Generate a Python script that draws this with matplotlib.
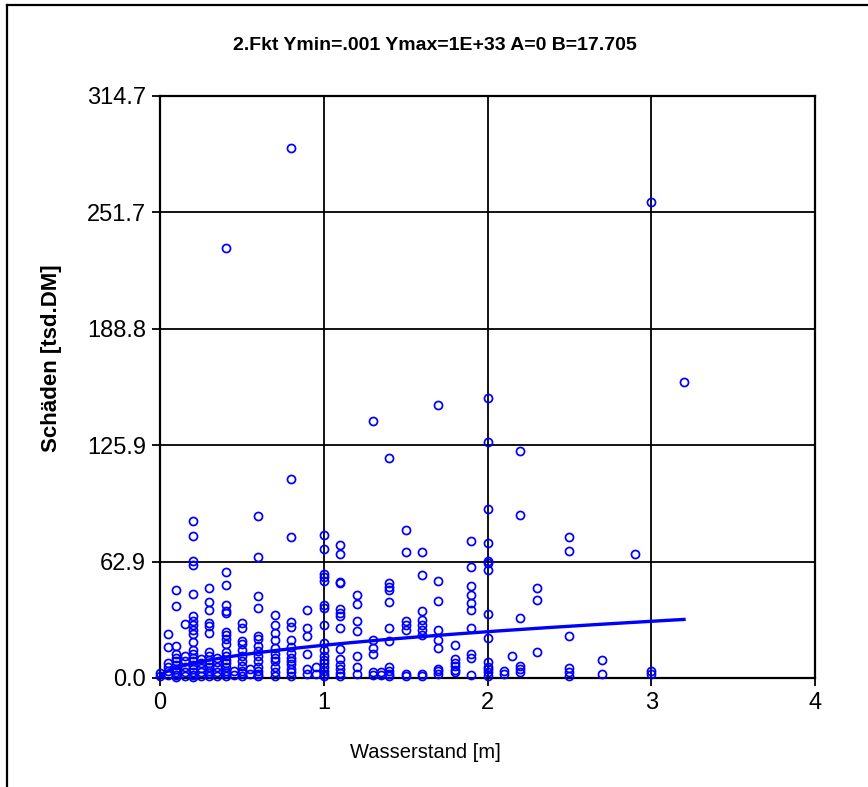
import numpy as np
import matplotlib
matplotlib.use("Agg")
import matplotlib.pyplot as plt
from matplotlib.lines import Line2D

# Water level classes (m) and the damages observed at each level (tsd. DM)
water_levels = [0.0, 0.05, 0.1, 0.15, 0.2, 0.25, 0.3, 0.35, 0.4, 0.45, 0.5, 0.55,
                0.6, 0.7, 0.8, 0.9, 0.95, 1.0, 1.1, 1.2, 1.3, 1.35, 1.4, 1.5, 1.6,
                1.7, 1.8, 1.9, 2.0, 2.1, 2.15, 2.2, 2.3, 2.5, 2.7, 2.9, 3.0, 3.2]
damages = [
    [2.7, 1.0],
    [23.8, 16.6, 8.0, 6.0, 4.0, 1.5],
    [47.5, 39.0, 17.5, 13.0, 11.0, 9.0, 7.0, 5.0, 3.0, 1.5, 0.5],
    [29.2, 12.0, 9.0, 6.0, 3.0, 1.0],
    [85.0, 76.8, 63.0, 61.0, 45.4, 33.6, 30.8, 28.5, 26.1, 23.6, 19.6, 15.0, 13.0,
     11.0, 9.0, 7.0, 5.0, 3.0, 1.5, 0.5],
    [10.5, 8.0, 5.5, 3.0, 1.0],
    [48.5, 40.9, 36.5, 29.7, 28.0, 24.3, 14.0, 12.0, 10.0, 8.0, 6.0, 4.0, 2.5, 1.0],
    [11.0, 8.5, 6.0, 3.5, 1.2],
    [232.5, 57.5, 50.4, 39.7, 36.2, 35.0, 25.0, 23.3, 21.0, 18.2, 14.0, 12.0, 10.0,
     8.0, 6.0, 4.0, 2.5, 1.0],
    [4.0, 1.5],
    [29.5, 26.8, 19.8, 18.4, 15.0, 12.0, 9.0, 6.5, 4.0, 2.5, 1.0],
    [5.0, 2.0],
    [87.6, 65.6, 44.1, 38.0, 22.8, 21.0, 17.2, 14.6, 12.0, 9.0, 6.0, 4.0, 2.0, 1.0],
    [33.8, 28.6, 24.6, 20.8, 16.4, 13.0, 11.0, 9.0, 6.0, 3.0, 1.0],
    [286.5, 107.5, 76.3, 30.2, 27.6, 20.5, 17.0, 13.7, 11.0, 9.0, 7.5, 5.0, 3.0, 1.0],
    [36.6, 27.2, 22.8, 13.0, 4.8, 2.1],
    [5.7, 2.1],
    [77.5, 70.0, 56.3, 54.4, 52.2, 39.5, 38.0, 28.6, 19.0, 15.0, 12.0, 10.0, 8.0,
     6.0, 4.0, 2.0, 1.0],
    [72.0, 67.0, 52.0, 51.4, 37.2, 35.2, 33.4, 27.2, 15.5, 10.1, 7.0, 4.8, 2.5, 1.2],
    [45.0, 40.2, 30.8, 25.4, 11.9, 5.7, 2.1],
    [139.0, 20.8, 16.4, 12.8, 3.0, 1.5],
    [3.0, 1.5],
    [119.0, 51.2, 49.0, 47.8, 41.2, 27.0, 19.9, 5.7, 3.9, 2.1, 1.0],
    [80.0, 68.0, 30.6, 28.8, 26.1, 2.1, 1.0],
    [68.0, 55.5, 36.4, 31.5, 28.8, 26.1, 23.5, 2.2, 1.2],
    [147.5, 52.2, 41.8, 26.1, 20.8, 16.4, 5.0, 3.9, 2.1],
    [18.1, 10.1, 8.0, 6.6, 4.5, 3.0],
    [74.0, 60.0, 49.5, 45.0, 40.8, 36.8, 27.0, 12.8, 11.0, 1.6],
    [151.5, 127.5, 91.5, 72.9, 63.0, 62.0, 58.6, 34.8, 21.7, 8.4, 6.0, 4.8, 3.0, 1.2],
    [3.9, 2.1],
    [11.9],
    [122.5, 88.0, 32.5, 6.6, 5.0, 3.0],
    [48.6, 42.3, 13.8],
    [76.3, 68.9, 22.8, 5.5, 3.5, 1.3],
    [9.8, 2.2],
    [67.0],
    [257.5, 3.9, 2.1],
    [160.0],
]

# Fitted damage function y = A + B * sqrt(x)
fit_a = 0.0
fit_b = 17.705
fit_x_max = 3.2

x_ticks = [0, 1, 2, 3, 4]
y_ticks = [0.0, 62.94, 125.88, 188.82, 251.76, 314.7]
y_tick_labels = ["0.0", "62.9", "125.9", "188.8", "251.7", "314.7"]

title = "2.Fkt Ymin=.001 Ymax=1E+33 A=0 B=17.705"
font = "Liberation Sans"

fig = plt.figure(figsize=(8.68, 7.87), dpi=100)
fig.patch.set_facecolor("white")
ax = fig.add_axes([160 / 868, 1 - 678 / 787, 655 / 868, 582 / 787])

xs = np.concatenate([[x] * len(v) for x, v in zip(water_levels, damages)])
ys = np.concatenate([np.asarray(v, float) for v in damages])
ax.plot(xs, ys, linestyle="none", marker="o", markersize=5.8,
        markerfacecolor="none", markeredgecolor="#0000ff", markeredgewidth=1.25,
        clip_on=False, zorder=3)

fx = np.linspace(0, fit_x_max, 400)
ax.plot(fx, fit_a + fit_b * np.sqrt(fx), color="#0000ff", linewidth=2.4, zorder=4)

ax.set_xlim(0, 4)
ax.set_ylim(0, 314.7)
ax.set_xticks(x_ticks)
ax.set_xticklabels([str(t) for t in x_ticks])
ax.set_yticks(y_ticks)
ax.set_yticklabels(y_tick_labels)
ax.grid(True, color="black", linewidth=1.3)
ax.set_axisbelow(True)
for s in ax.spines.values():
    s.set_color("black")
    s.set_linewidth(1.6)
ax.tick_params(direction="out", length=6, width=1.3, colors="black",
               labelsize=17, pad=4)
for lab in ax.get_xticklabels() + ax.get_yticklabels():
    lab.set_family(font)

fig.text(435 / 868, 1 - 45 / 787, title, ha="center", va="center",
         fontsize=14, fontweight="bold", family=font)
fig.text(52 / 868, 1 - 358 / 787, "Schäden [tsd.DM]", ha="center", va="center",
         rotation=90, fontsize=16, fontweight="bold", family=font)
fig.text(425 / 868, 1 - 752 / 787, "Wasserstand [m]", ha="center", va="center",
         fontsize=14.5, family=font)

# outer frame (left and top edges)
fig.add_artist(Line2D([7 / 868, 7 / 868], [0, 1 - 5 / 787], transform=fig.transFigure,
                      color="black", linewidth=1.6))
fig.add_artist(Line2D([7 / 868, 1], [1 - 5 / 787, 1 - 5 / 787], transform=fig.transFigure,
                      color="black", linewidth=1.6))

fig.savefig("out.png", dpi=100, facecolor="white")
